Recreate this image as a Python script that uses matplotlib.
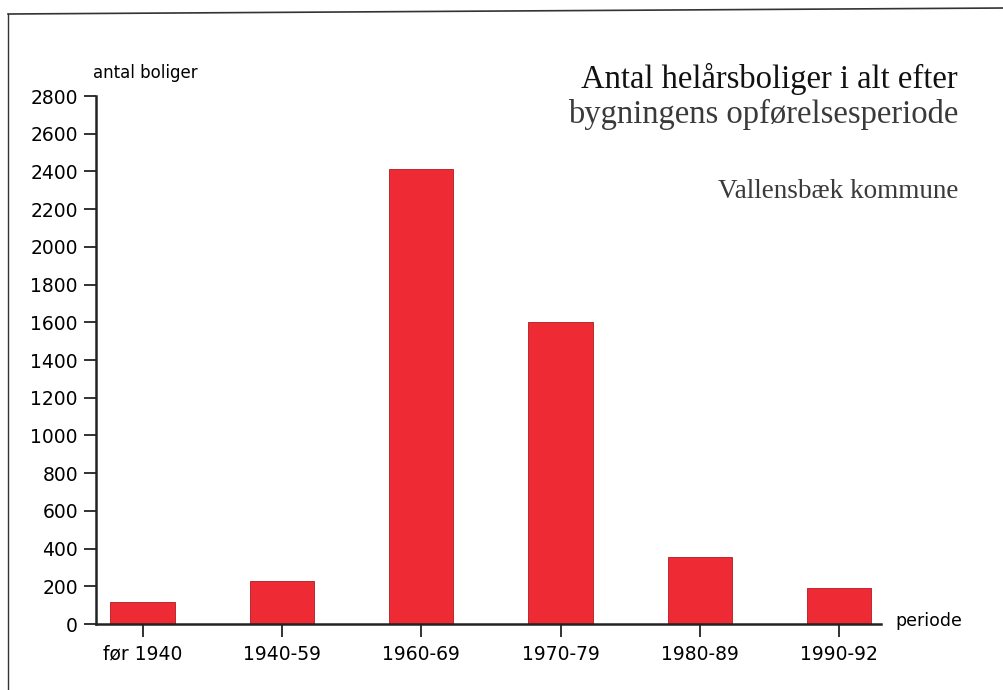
#!/usr/bin/env python3
"""Antal helårsboliger efter bygningens opførelsesperiode, Vallensbæk kommune."""

import matplotlib

matplotlib.use("Agg")

import matplotlib.pyplot as plt
from matplotlib.lines import Line2D

# data
periods = ["før 1940", "1940-59", "1960-69", "1970-79", "1980-89", "1990-92"]
dwellings = [115, 230, 2415, 1600, 355, 190]
y_ticks = list(range(0, 2801, 200))

W, H = 1004, 690
BAR_RED = "#ee2a35"
SANS = ["DejaVu Sans"]
SERIF = ["Liberation Serif", "DejaVu Serif"]

fig = plt.figure(figsize=(W / 100, H / 100), dpi=100)
ax = fig.add_axes([96 / W, 1 - 624 / H, (881 - 96) / W, (624 - 96) / H])

x = list(range(len(periods)))
ax.bar(x, dwellings, width=0.46, color=BAR_RED, edgecolor="#b01820", linewidth=0.6, zorder=2)

ax.set_xlim(-0.334, 5.30)
ax.set_ylim(0, 2800)
ax.set_yticks(y_ticks)
ax.set_yticklabels([str(v) for v in y_ticks], family=SANS, fontsize=13.5)
ax.set_xticks(x)
ax.set_xticklabels(periods, family=SANS, fontsize=13.5)
ax.tick_params(axis="y", direction="out", length=9, width=1.3, pad=4, color="#222222")
ax.tick_params(axis="x", direction="out", length=9, width=1.3, pad=6, color="#222222")

for side in ("top", "right"):
    ax.spines[side].set_visible(False)
for side in ("left", "bottom"):
    ax.spines[side].set_linewidth(1.8)
    ax.spines[side].set_color("#222222")

# axis captions
fig.text(93 / W, 1 - 73 / H, "antal boliger", family=SANS, fontsize=12,
         ha="left", va="center")
fig.text(895 / W, 1 - 621 / H, "periode", family=SANS, fontsize=12.5,
         ha="left", va="center")

# title block
fig.text(958 / W, 1 - 88 / H, "Antal helårsboliger i alt efter", family=SERIF,
         fontsize=23.5, ha="right", va="baseline", color="#111111")
fig.text(958 / W, 1 - 123 / H, "bygningens opførelsesperiode", family=SERIF,
         fontsize=23.5, ha="right", va="baseline", color="#3a3a3a")
fig.text(958 / W, 1 - 198 / H, "Vallensbæk kommune", family=SERIF,
         fontsize=19.5, ha="right", va="baseline", color="#3a3a3a")

# scanned page frame
fig.add_artist(Line2D([8 / W, 1.0], [1 - 14 / H, 1 - 8 / H], color="#333333",
                      linewidth=1.2, transform=fig.transFigure))
fig.add_artist(Line2D([8 / W, 8 / W], [1 - 14 / H, 0.0], color="#333333",
                      linewidth=1.0, transform=fig.transFigure))

fig.savefig("out.png", dpi=100, facecolor="white")
plt.close(fig)
